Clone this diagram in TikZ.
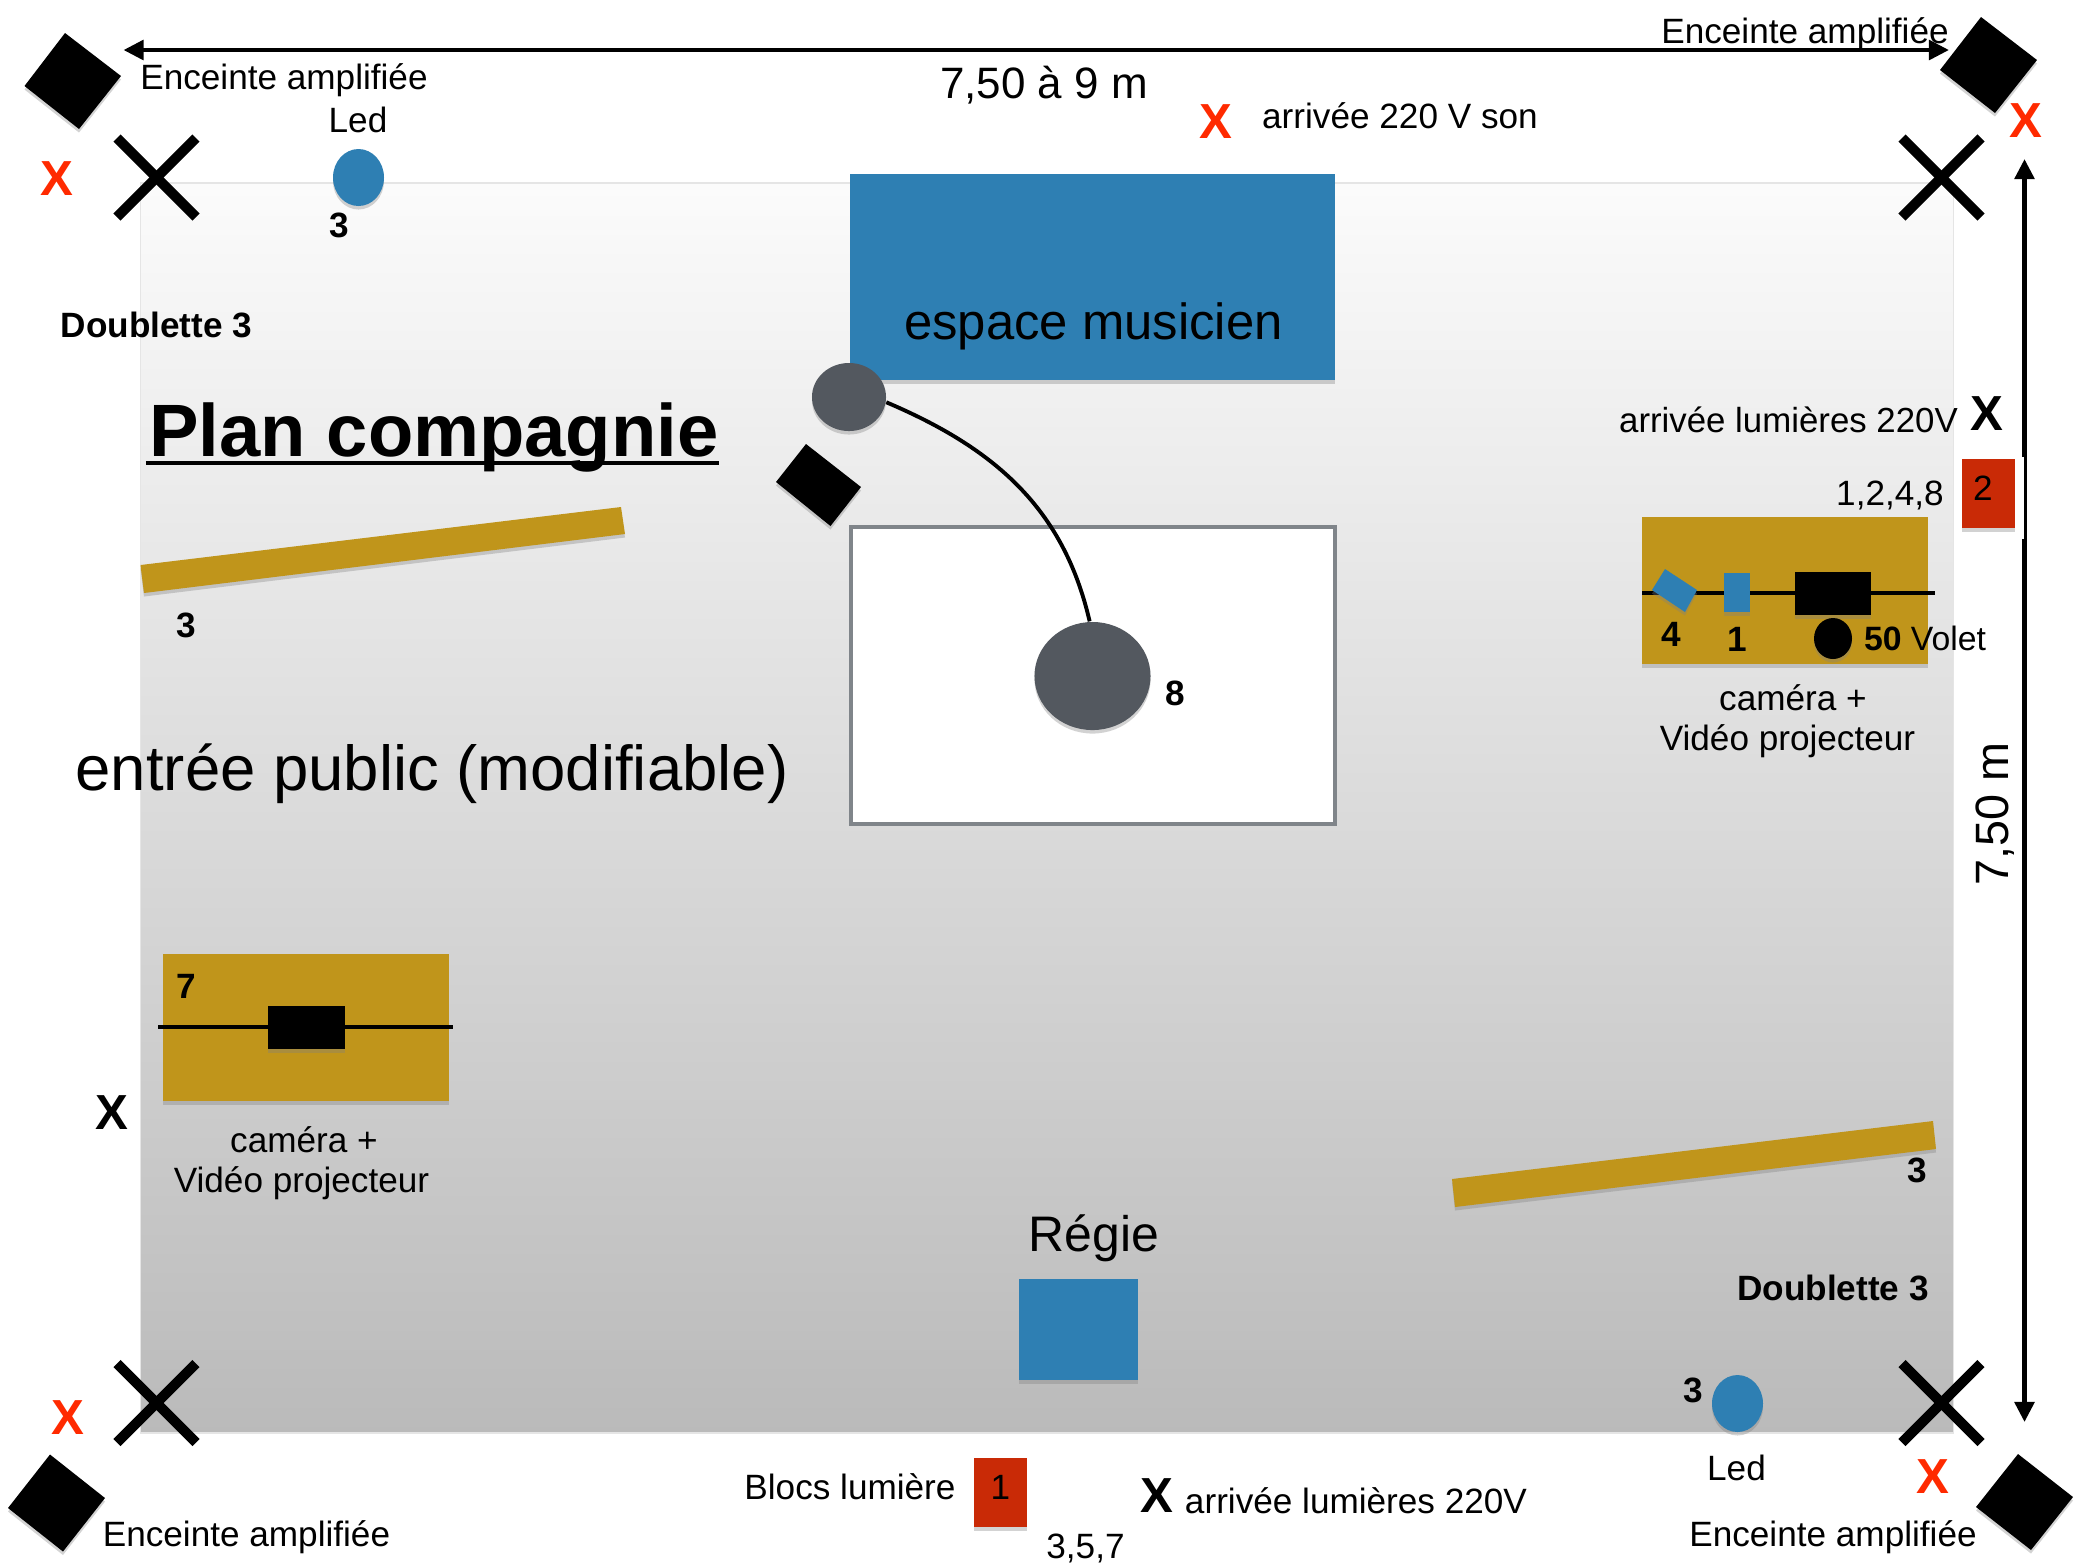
\documentclass[tikz,border=0pt]{standalone}
\usepackage{fontspec}
\setmainfont{Liberation Sans}
\usetikzlibrary{
  arrows.meta,
  calc,
  shadows,
  shapes.geometric}
\definecolor{bleu}{HTML}{2E7FB3}
\definecolor{gris}{HTML}{53585F}
\definecolor{ocre}{HTML}{C0951B}
\definecolor{brique}{HTML}{C92A06}
\definecolor{rouge}{HTML}{FF2A00}
\definecolor{cadre}{HTML}{80858A}
\tikzset{
  ombre/.style={drop shadow={shadow xshift=0pt,shadow yshift=-1pt,opacity=.35}},
  enceinte/.style={fill=black,ombre},
  croix/.style={line width=2.85pt},
  txt/.style={anchor=base,inner sep=0pt,font=\fontsize{10}{12}\selectfont},
  txtbf/.style={anchor=base,inner sep=0pt,font=\fontsize{10}{12}\selectfont\bfseries},
  txtm/.style={anchor=base,inner sep=0pt,font=\fontsize{14.2}{17}\selectfont},
  marque/.style={inner sep=0pt,font=\fontsize{14}{17}\selectfont\bfseries},
  rond/.style={ellipse,fill=gris,ombre,inner sep=0pt}
}
\begin{document}
\begin{tikzpicture}[x=0.01cm,y=-0.01cm,>={Triangle[length=5.7pt,width=5.5pt]}]
            \useasboundingbox (0,0) rectangle (2078,1565);
            \shade[top color=black!1.5,bottom color=black!27,draw=black!10,line width=.4pt] (140.5,183) rectangle (1953.5,1433);
            \coordinate (cotegauche) at (123.5,50);
            \coordinate (cotedroite) at (1949,50);
            \coordinate (cotehaut) at (2024.5,159);
            \coordinate (cotebas) at (2024.5,1422);
            \draw[<->,line width=1.3pt] (cotegauche)--(cotedroite);
            \draw[<->,line width=1.3pt] (cotehaut)--(cotebas);
            \fill[white] (1957,457) rectangle (2024,539);
            \fill[enceinte] (65,33)--(121,76)--(79,129)--(24.5,86)--cycle;
            \fill[enceinte] (1981,17)--(2037,60)--(1995,113)--(1940,70)--cycle;
            \fill[enceinte] (50,1454.5)--(105,1498)--(63,1551.5)--(8,1508)--cycle;
            \fill[enceinte] (2018,1454)--(2073,1497)--(2031,1550)--(1976,1507)--cycle;
            \fill[enceinte] (806,444)--(861,487)--(830.5,526)--(776,482)--cycle;
            \foreach \cx/\cy in {156.5/177.5,1941.5/177.5,156.5/1403,1941.5/1403}{
              \draw[croix] (\cx-39.5,\cy-39.5)--(\cx+39.5,\cy+39.5);
              \draw[croix] (\cx-39.5,\cy+39.5)--(\cx+39.5,\cy-39.5);
            }
            \fill[bleu,ombre] (850,174) rectangle (1335,380);
            \fill[bleu,ombre] (1019,1279) rectangle (1138,1380);
            \fill[bleu,ombre] (358.5,177.5) ellipse (25.5 and 28.5);
            \fill[bleu,ombre] (1737.5,1403.5) ellipse (25.5 and 28.5);
            \fill[ocre,ombre] (140.5,565)--(621,507)--(625,534)--(144,593)--cycle;
            \fill[ocre,ombre] (1452,1179)--(1933,1121)--(1936,1149)--(1455,1207)--cycle;
            \fill[brique,ombre] (1962,459) rectangle (2014.5,528);
            \fill[brique,ombre] (974,1457.5) rectangle (1027,1527);
            \draw[draw=cadre,fill=white,line width=1.15pt] (851,527) rectangle (1335,824);
            \fill[ocre,ombre] (163,954) rectangle (449,1101);
            \draw[line width=1.15pt] (158,1027)--(453,1027);
            \fill[black,ombre] (268,1006) rectangle (345,1049);
            \fill[ocre,ombre] (1642,517) rectangle (1928,664);
            \draw[line width=1.15pt] (1642,593)--(1935,593);
            \fill[black,ombre] (1795,572) rectangle (1871,615);
            \fill[bleu,ombre] (1665,569)--(1697,590)--(1685,612)--(1652,590)--cycle;
            \fill[bleu,ombre] (1723.5,573) rectangle (1749.5,612);
            \fill[black,ombre] (1833,638.5) ellipse (19 and 20.5);
            \node (micro) at (849,397) [rond,minimum width=74*0.2845pt,minimum height=68*0.2845pt] {};
            \node (batterie) at (1092.5,676) [rond,minimum width=116*0.2845pt,minimum height=108*0.2845pt] {};
            \draw[line width=1.1pt] (micro.-8) to[out=-23,in=103] (batterie.93);
            \node (encA) at (284,89) [txt] {Enceinte amplifiée};
            \node (encB) at (1805,43) [txt] {Enceinte amplifiée};
            \node (encC) at (246.5,1546) [txt] {Enceinte amplifiée};
            \node (encD) at (1833,1546) [txt] {Enceinte amplifiée};
            \node (ledA) at (358,132.5) [txt] {Led};
            \node (ledB) at (1736.5,1480) [txt] {Led};
            \node (largeur) at (1044,98) [txt,font=\fontsize{12.5}{15}\selectfont] {7,50 à 9 m};
            \node (profondeur) at (2008,814) [txt,rotate=90,font=\fontsize{13.3}{16}\selectfont] {7,50 m};
            \node (arrson) at (1400,128.5) [txt] {arrivée 220 V son};
            \node (arrlumA) at (1788.5,432.5) [txt,font=\fontsize{9.9}{12}\selectfont] {arrivée lumières 220V};
            \node (arrlumB) at (1356,1513) [txt] {arrivée lumières 220V};
            \node (espace) at (1093.5,339) [txtm,font=\fontsize{14.45}{17}\selectfont] {espace musicien};
            \node (regie) at (1094,1251) [txtm] {Régie};
            \node (entree) at (432,790) [txt,font=\fontsize{18.05}{22}\selectfont] {entrée public (modifiable)};
            \node (titre) at (434,456) [txtbf,font=\fontsize{21.1}{25}\selectfont\bfseries] {Plan compagnie};
            \draw[line width=1.15pt] ($(titre.base west)+(-3,6.5)$)--($(titre.base east)+(0,6.5)$);
            \node (doubleA) at (156.5,337) [txtbf] {Doublette 3};
            \node (doubleB) at (1833,1300) [txtbf] {Doublette 3};
            \node (nledA) at (339,237) [txtbf] {3};
            \node (nledB) at (1693,1402) [txtbf] {3};
            \node (nplanA) at (186,637.5) [txtbf] {3};
            \node (nplanB) at (1917,1182) [txtbf] {3};
            \node (nbatt) at (1175,705) [txtbf] {8};
            \node (ncamA) at (186,998) [txtbf] {7};
            \node (ncamB) at (1671,646) [txtbf] {4};
            \node (ncamC) at (1737.5,651) [txtbf] {1};
            \node (volet) at (1925,650.5) [txt,font=\fontsize{9.6}{12}\selectfont] {\textbf{50} Volet};
            \node (camA) at (304,1152) [txt] {caméra +};
            \node (vidA) at (301.5,1192) [txt] {Vidéo projecteur};
            \node (camB) at (1793,710) [txt] {caméra +};
            \node (vidB) at (1787.5,750) [txt] {Vidéo projecteur};
            \node (liste) at (1890,505) [txt] {1,2,4,8};
            \node (listeB) at (1085.5,1558) [txt] {3,5,7};
            \node (blocs) at (850,1499) [txt] {Blocs lumière};
            \node (blocA) at (1983,500) [txt] {2};
            \node (blocB) at (1000.5,1499) [txt] {1};
            \node (xA) at (56.5,179) [marque,text=rouge] {X};
            \node (xB) at (2026,121) [marque,text=rouge] {X};
            \node (xC) at (68,1418) [marque,text=rouge] {X};
            \node (xD) at (1933,1477) [marque,text=rouge] {X};
            \node (xE) at (1215.5,122) [marque,text=rouge] {X};
            \node (xF) at (1986.5,414) [marque] {X};
            \node (xG) at (111.5,1113) [marque] {X};
            \node (xH) at (1157,1496) [marque] {X};
\end{tikzpicture}
\end{document}
